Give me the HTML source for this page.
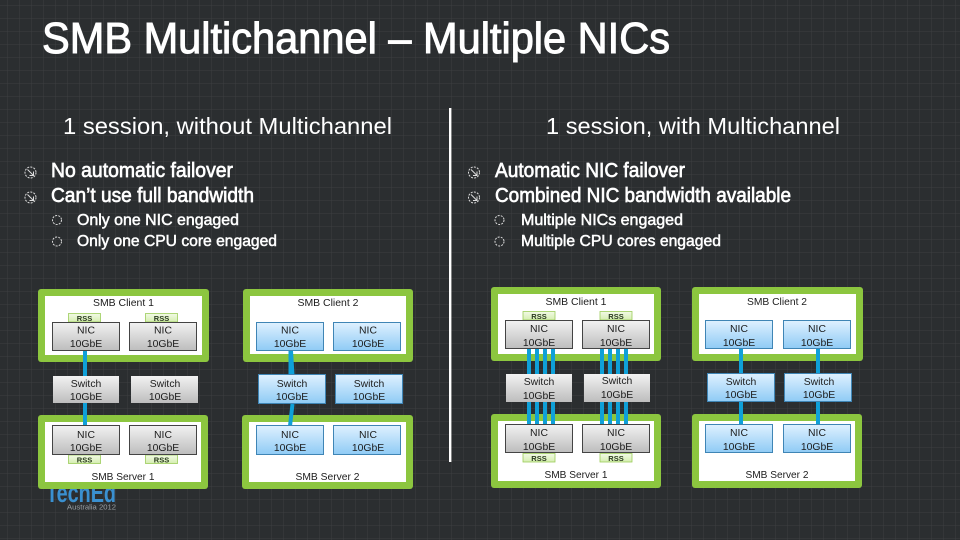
<!DOCTYPE html>
<html><head><meta charset="utf-8"><style>
html,body{margin:0;padding:0;background:#2b2e30;overflow:hidden}
svg{display:block}
text{font-family:"Liberation Sans",sans-serif;fill:#fff}
.t{fill:#1c1c1c;font-size:10.4px;text-anchor:middle}
.r{fill:#2a3a20;font-size:7.5px;text-anchor:middle;font-weight:bold}
.b{stroke:#fff;stroke-width:.65px;font-size:20px}
.s{stroke:#fff;stroke-width:.5px;font-size:16px}
.h{font-size:23px}
.g{fill:#8cc63f}
.w{fill:#fff}
.wire{fill:#0fa0d8}
.ic{fill:none;stroke:#ddd;stroke-width:1;stroke-dasharray:2 1.2}
.ar{fill:none;stroke:#ddd;stroke-width:1}
</style></head><body>
<svg width="960" height="540" viewBox="0 0 960 540" xmlns="http://www.w3.org/2000/svg">
<defs>
<pattern id="grid" width="12" height="13" patternUnits="userSpaceOnUse" x="7" y="5">
<path d="M0 0H12M0 0V13" stroke="#3c3f41" stroke-width="1" fill="none"/>
</pattern>
<linearGradient id="gray" x1="0" y1="0" x2="0" y2="1"><stop offset="0" stop-color="#f2f2f2"/><stop offset="1" stop-color="#bdbdbd"/></linearGradient>
<linearGradient id="blue" x1="0" y1="0" x2="0" y2="1"><stop offset="0" stop-color="#dff1ff"/><stop offset="1" stop-color="#8fcbf5"/></linearGradient>
<linearGradient id="rss" x1="0" y1="0" x2="0" y2="1"><stop offset="0" stop-color="#f2fae6"/><stop offset="1" stop-color="#d5eeb0"/></linearGradient>
</defs>
<rect width="960" height="540" fill="#2b2e30"/>
<rect width="960" height="540" fill="url(#grid)"/>

<!-- title -->
<text x="42" y="53" font-size="44" stroke="#fff" stroke-width="1" textLength="628" lengthAdjust="spacingAndGlyphs">SMB Multichannel – Multiple NICs</text>
<text x="63" y="134" class="h" textLength="329" lengthAdjust="spacingAndGlyphs">1 session, without Multichannel</text>
<text x="546" y="134" class="h" textLength="294" lengthAdjust="spacingAndGlyphs">1 session, with Multichannel</text>
<rect x="449" y="108" width="2.4" height="354" fill="#fff"/>

<!-- bullets left -->
<circle cx="30.500" cy="172.500" r="5.500" class="ic"/><path d="M27.500 169.500L33.500 175.500M33.500 171.500V175.500H29.500" class="ar"/>
<circle cx="30.500" cy="197.500" r="5.500" class="ic"/><path d="M27.500 194.500L33.500 200.500M33.500 196.500V200.500H29.500" class="ar"/>
<circle cx="57" cy="220" r="4.500" class="ic"/>
<circle cx="57" cy="241.500" r="4.500" class="ic"/>
<text x="51" y="177" class="b" textLength="182" lengthAdjust="spacingAndGlyphs">No automatic failover</text>
<text x="51" y="202" class="b" textLength="203" lengthAdjust="spacingAndGlyphs">Can’t use full bandwidth</text>
<text x="77" y="225" class="s" textLength="162" lengthAdjust="spacingAndGlyphs">Only one NIC engaged</text>
<text x="77" y="246" class="s" textLength="200" lengthAdjust="spacingAndGlyphs">Only one CPU core engaged</text>

<!-- bullets right -->
<circle cx="474" cy="172.500" r="5.500" class="ic"/><path d="M471 169.500L477 175.500M477 171.500V175.500H473" class="ar"/>
<circle cx="474" cy="197.500" r="5.500" class="ic"/><path d="M471 194.500L477 200.500M477 196.500V200.500H473" class="ar"/>
<circle cx="499.500" cy="220" r="4.500" class="ic"/>
<circle cx="499.500" cy="241.500" r="4.500" class="ic"/>
<text x="495" y="177" class="b" textLength="190" lengthAdjust="spacingAndGlyphs">Automatic NIC failover</text>
<text x="495" y="202" class="b" textLength="296" lengthAdjust="spacingAndGlyphs">Combined NIC bandwidth available</text>
<text x="521" y="225" class="s" textLength="162" lengthAdjust="spacingAndGlyphs">Multiple NICs engaged</text>
<text x="521" y="246" class="s" textLength="200" lengthAdjust="spacingAndGlyphs">Multiple CPU cores engaged</text>

<!-- TechEd logo -->
<text x="46" y="502" font-size="27" font-weight="bold" style="fill:#3a90d0" textLength="70" lengthAdjust="spacingAndGlyphs">TechEd</text>
<text x="67" y="509.500" font-size="7.500" style="fill:#9aa0a5" textLength="49" lengthAdjust="spacingAndGlyphs">Australia 2012</text>

<!-- green boxes -->
<rect x="38" y="289" width="171" height="73" rx="3" class="g"/><rect x="45" y="296" width="157" height="59" class="w"/>
<rect x="38" y="415" width="170" height="74" rx="3" class="g"/><rect x="45" y="422" width="156" height="60" class="w"/>
<rect x="243" y="289" width="170" height="73" rx="3" class="g"/><rect x="250" y="296" width="156" height="58" class="w"/>
<rect x="242" y="415" width="171" height="74" rx="3" class="g"/><rect x="249" y="422" width="157" height="60" class="w"/>
<rect x="491" y="287" width="170" height="74" rx="3" class="g"/><rect x="498" y="294" width="156" height="60" class="w"/>
<rect x="491" y="414" width="170" height="74" rx="3" class="g"/><rect x="498" y="421" width="156" height="60" class="w"/>
<rect x="692" y="287" width="171" height="74" rx="3" class="g"/><rect x="699" y="294" width="157" height="60" class="w"/>
<rect x="692" y="414" width="170" height="74" rx="3" class="g"/><rect x="699" y="421" width="156" height="60" class="w"/>

<!-- wires -->
<rect x="83" y="351" width="4" height="87" class="wire"/>
<path d="M291 351L292.500 375M292.500 404L290 426" stroke="#0fa0d8" stroke-width="4" fill="none"/>
<path d="M290.500 351V375" stroke="#0fa0d8" stroke-width="4" fill="none"/>
<g class="wire">
<rect x="527" y="349" width="4" height="76"/><rect x="535" y="349" width="4" height="76"/><rect x="543" y="349" width="4" height="76"/><rect x="551" y="349" width="4" height="76"/>
<rect x="600" y="349" width="4" height="76"/><rect x="608" y="349" width="4" height="76"/><rect x="616" y="349" width="4" height="76"/><rect x="624" y="349" width="4" height="76"/>
<rect x="739" y="349" width="4" height="76"/><rect x="816" y="349" width="4" height="76"/>
</g>

<!-- RSS -->
<g fill="url(#rss)" stroke="#9ccc5a" stroke-width=".8">
<rect x="68.500" y="313.500" width="32" height="8.500"/><rect x="145.500" y="313.500" width="32" height="8.500"/>
<rect x="68.500" y="455" width="32" height="8.500"/><rect x="145.500" y="455" width="32" height="8.500"/>
<rect x="523" y="311.500" width="32" height="8.500"/><rect x="600" y="311.500" width="32" height="8.500"/>
<rect x="523" y="453.500" width="32" height="8.500"/><rect x="600" y="453.500" width="32" height="8.500"/>
</g>
<text x="84.500" y="321" class="r">RSS</text><text x="161.500" y="321" class="r">RSS</text>
<text x="84.500" y="462.500" class="r">RSS</text><text x="161.500" y="462.500" class="r">RSS</text>
<text x="539" y="319" class="r">RSS</text><text x="616" y="319" class="r">RSS</text>
<text x="539" y="461" class="r">RSS</text><text x="616" y="461" class="r">RSS</text>

<!-- gray NICs -->
<g fill="url(#gray)" stroke="#444" stroke-width="1">
<rect x="52.500" y="322.500" width="67" height="28"/><rect x="129.500" y="322.500" width="67" height="28"/>
<rect x="52.500" y="425.500" width="67" height="29"/><rect x="129.500" y="425.500" width="67" height="29"/>
<rect x="505.500" y="320.500" width="67" height="28"/><rect x="582.500" y="320.500" width="67" height="28"/>
<rect x="505.500" y="424.500" width="67" height="28"/><rect x="582.500" y="424.500" width="67" height="28"/>
</g>
<!-- gray switches -->
<g fill="url(#gray)">
<rect x="53" y="376" width="66" height="27"/><rect x="131" y="376" width="67" height="27"/>
<rect x="506" y="374" width="66" height="28"/><rect x="584" y="374" width="66" height="28"/>
</g>
<!-- blue NICs / switches -->
<g fill="url(#blue)" stroke="#3f85b5" stroke-width="1">
<rect x="256.500" y="322.500" width="67" height="28"/><rect x="333.500" y="322.500" width="67" height="28"/>
<rect x="258.500" y="374.500" width="67" height="29"/><rect x="335.500" y="374.500" width="67" height="29"/>
<rect x="256.500" y="425.500" width="67" height="29"/><rect x="333.500" y="425.500" width="67" height="29"/>
<rect x="705.500" y="320.500" width="67" height="28"/><rect x="783.500" y="320.500" width="67" height="28"/>
<rect x="707.500" y="373.500" width="67" height="28"/><rect x="784.500" y="373.500" width="67" height="28"/>
<rect x="705.500" y="424.500" width="67" height="28"/><rect x="783.500" y="424.500" width="67" height="28"/>
</g>

<!-- box labels -->
<text x="123.500" y="306" class="t" textLength="61" lengthAdjust="spacingAndGlyphs">SMB Client 1</text>
<text x="123" y="480" class="t" textLength="63" lengthAdjust="spacingAndGlyphs">SMB Server 1</text>
<text x="328" y="306" class="t" textLength="61" lengthAdjust="spacingAndGlyphs">SMB Client 2</text>
<text x="327.500" y="480" class="t" textLength="64" lengthAdjust="spacingAndGlyphs">SMB Server 2</text>
<text x="576" y="305" class="t" textLength="61" lengthAdjust="spacingAndGlyphs">SMB Client 1</text>
<text x="576" y="478" class="t" textLength="63" lengthAdjust="spacingAndGlyphs">SMB Server 1</text>
<text x="777" y="305" class="t" textLength="60" lengthAdjust="spacingAndGlyphs">SMB Client 2</text>
<text x="777" y="478" class="t" textLength="63" lengthAdjust="spacingAndGlyphs">SMB Server 2</text>

<!-- left col 1 -->
<text x="86" y="333.500" class="t">NIC</text><text x="86" y="347" class="t">10GbE</text>
<text x="163" y="333.500" class="t">NIC</text><text x="163" y="347" class="t">10GbE</text>
<text x="86" y="387" class="t">Switch</text><text x="86" y="400" class="t">10GbE</text>
<text x="165" y="387" class="t">Switch</text><text x="165" y="400" class="t">10GbE</text>
<text x="86" y="438" class="t">NIC</text><text x="86" y="451" class="t">10GbE</text>
<text x="163" y="438" class="t">NIC</text><text x="163" y="451" class="t">10GbE</text>
<!-- left col 2 -->
<text x="290" y="333.500" class="t">NIC</text><text x="290" y="347" class="t">10GbE</text>
<text x="368" y="333.500" class="t">NIC</text><text x="368" y="347" class="t">10GbE</text>
<text x="292" y="387" class="t">Switch</text><text x="292" y="400" class="t">10GbE</text>
<text x="369" y="387" class="t">Switch</text><text x="369" y="400" class="t">10GbE</text>
<text x="290" y="438" class="t">NIC</text><text x="290" y="451" class="t">10GbE</text>
<text x="368" y="438" class="t">NIC</text><text x="368" y="451" class="t">10GbE</text>
<!-- right col 1 -->
<text x="539" y="332" class="t">NIC</text><text x="539" y="346" class="t">10GbE</text>
<text x="616" y="332" class="t">NIC</text><text x="616" y="346" class="t">10GbE</text>
<text x="539" y="385" class="t">Switch</text><text x="539" y="399" class="t">10GbE</text>
<text x="617" y="384" class="t">Switch</text><text x="617" y="398" class="t">10GbE</text>
<text x="539" y="436" class="t">NIC</text><text x="539" y="450" class="t">10GbE</text>
<text x="616" y="436" class="t">NIC</text><text x="616" y="450" class="t">10GbE</text>
<!-- right col 2 -->
<text x="739" y="332" class="t">NIC</text><text x="739" y="346" class="t">10GbE</text>
<text x="817" y="332" class="t">NIC</text><text x="817" y="346" class="t">10GbE</text>
<text x="741" y="385" class="t">Switch</text><text x="741" y="398" class="t">10GbE</text>
<text x="819" y="385" class="t">Switch</text><text x="819" y="398" class="t">10GbE</text>
<text x="739" y="436" class="t">NIC</text><text x="739" y="450" class="t">10GbE</text>
<text x="817" y="436" class="t">NIC</text><text x="817" y="450" class="t">10GbE</text>
</svg>
</body></html>
